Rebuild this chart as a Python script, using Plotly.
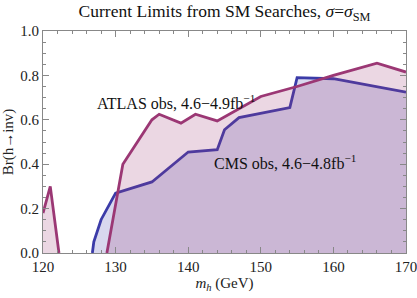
import plotly.graph_objects as go

# ATLAS observed limit (two segments)
atlas_low_mh = [120, 121, 122.2]
atlas_low_br = [0.18, 0.30, 0.0]
atlas_mh = [128.8, 131, 135, 136, 139, 141, 144, 150, 155, 160, 166, 170]
atlas_br = [0.0, 0.40, 0.60, 0.625, 0.585, 0.625, 0.595, 0.705, 0.75, 0.80, 0.855, 0.815]

# CMS observed limit
cms_mh = [126.8, 127.0, 128.0, 130, 135, 140, 144, 145, 147, 154, 155, 160, 170]
cms_br = [0.0, 0.05, 0.15, 0.27, 0.32, 0.455, 0.465, 0.555, 0.61, 0.655, 0.79, 0.785, 0.725]

x_ticks = [120, 130, 140, 150, 160, 170]
y_ticks = [0.0, 0.2, 0.4, 0.6, 0.8, 1.0]

ATLAS_LINE = "#9B3774"
ATLAS_FILL = "rgba(155,55,116,0.2)"
CMS_LINE = "#3B3BA8"
CMS_FILL = "rgba(59,59,168,0.2)"

fig = go.Figure()
fig.add_trace(go.Scatter(x=cms_mh, y=cms_br, mode="lines", fill="tozeroy",
                         fillcolor=CMS_FILL, line=dict(color=CMS_LINE, width=2.8),
                         showlegend=False))
fig.add_trace(go.Scatter(x=atlas_low_mh, y=atlas_low_br, mode="lines", fill="tozeroy",
                         fillcolor=ATLAS_FILL, line=dict(color=ATLAS_LINE, width=2.8),
                         showlegend=False))
fig.add_trace(go.Scatter(x=atlas_mh, y=atlas_br, mode="lines", fill="tozeroy",
                         fillcolor=ATLAS_FILL, line=dict(color=ATLAS_LINE, width=2.8),
                         showlegend=False))

font = dict(family="Liberation Serif", size=15, color="#222")

fig.add_annotation(x=127.1, y=0.68, xref="x", yref="y", xanchor="left", yanchor="middle",
                   text="ATLAS obs, 4.6\u22124.9fb<sup>\u22121</sup>", showarrow=False,
                   font=dict(family="Liberation Serif", size=16, color="#111"))
fig.add_annotation(x=143.3, y=0.41, xref="x", yref="y", xanchor="left", yanchor="middle",
                   text="CMS obs, 4.6\u22124.8fb<sup>\u22121</sup>", showarrow=False,
                   font=dict(family="Liberation Serif", size=16, color="#111"))

axis_common = dict(showgrid=False, zeroline=False, showline=True, linecolor="#888",
                   linewidth=1, mirror="allticks", ticks="inside", ticklen=6,
                   tickcolor="#888", tickfont=font, ticklabeloverflow="allow")

fig.update_xaxes(range=[120, 170], tickvals=x_ticks, ticktext=[str(v) for v in x_ticks],
                 minor=dict(dtick=2, ticks="inside", ticklen=3, tickcolor="#888"),
                 title=dict(text="<i>m<sub>h</sub></i> (GeV)", font=font, standoff=3),
                 **axis_common)
fig.update_yaxes(range=[0, 1], tickvals=y_ticks, ticktext=[f"{v:.1f}" for v in y_ticks],
                 minor=dict(dtick=0.05, ticks="inside", ticklen=3, tickcolor="#888"),
                 title=dict(text="Br(h\u2192inv)", font=font, standoff=3),
                 **axis_common)

fig.update_layout(
    width=417, height=298,
    margin=dict(l=43, r=11, t=31, b=45, pad=0, autoexpand=False),
    plot_bgcolor="white", paper_bgcolor="white",
    title=dict(text="Current Limits from SM Searches, <i>\u03c3</i>=<i>\u03c3</i><sub>SM</sub>",
               x=0.5, xref="paper", xanchor="center", y=0.962, yref="container", yanchor="middle",
               font=dict(family="Liberation Serif", size=17.5, color="#111")),
)

# remove the browser's default body margin so the figure sits at the page origin
fig.write_html("out.html", config={"displayModeBar": False},
               post_script="document.body.style.margin='0px';")
